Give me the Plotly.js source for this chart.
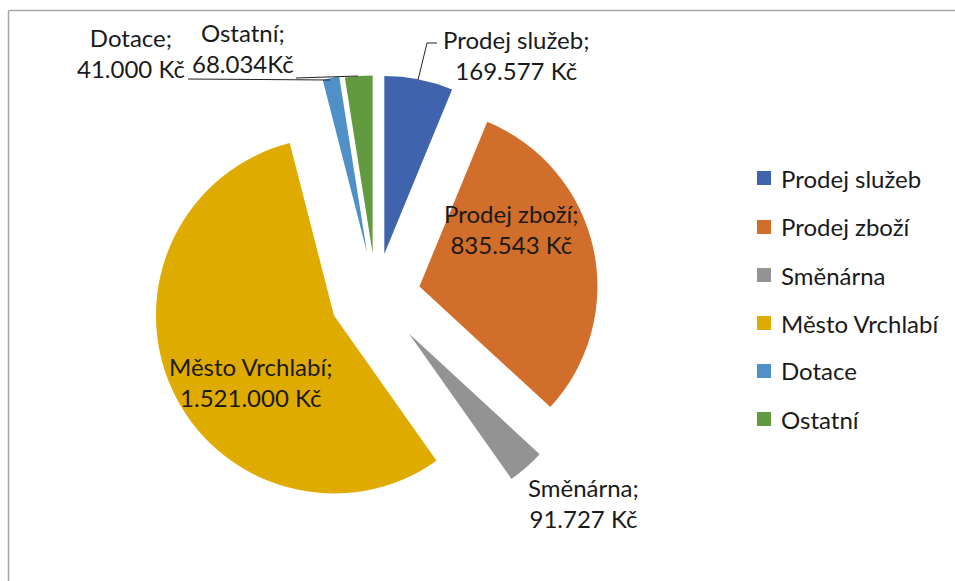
<!DOCTYPE html>
<html>
<head>
<meta charset="utf-8">
<script src="https://cdn.plot.ly/plotly-3.0.1.min.js"></script>
<style>
html,body{margin:0;padding:0;background:#fff;}
#chart{width:955px;height:581px;}
</style>
</head>
<body>
<div id="chart"></div>
<script>
// ---- data ----
const categories = ["Prodej služeb", "Prodej zboží", "Směnárna", "Město Vrchlabí", "Dotace", "Ostatní"];
const values = [169577, 835543, 91727, 1521000, 41000, 68034];
const currencySep = [" ", " ", " ", " ", " ", ""];
const currency = "Kč";

// ---- style ----
const colors = ["#3F64AD", "#D26E2B", "#939393", "#E0AB00", "#5090C8", "#629A3F"];
const pulls = [0.24, 0.25, 0.28, 0.26, 0.25, 0.24];
const W = 955, H = 581;
const px = x => x / W;
const py = y => 1 - y / H;
const FONT = {family: "Lato, 'Open Sans', sans-serif", size: 24, color: "#1a1a1a"};

function fmt(v) {
  return String(v).replace(/\B(?=(\d{3})+(?!\d))/g, ".");
}

// label centres (pixels)
const labelPos = [[516, 55], [511, 229], [583, 503], [250, 382], [131, 53], [243, 48]];

const annotations = categories.map((c, i) => ({
  xref: "paper", yref: "paper",
  x: px(labelPos[i][0]), y: py(labelPos[i][1]),
  xanchor: "center", yanchor: "middle",
  text: c + ";<br>" + fmt(values[i]) + currencySep[i] + currency,
  showarrow: false, font: FONT, align: "center"
}));

// manual legend
const legendY = [178, 227, 275, 323, 371, 419];
const shapes = [];
categories.forEach((c, i) => {
  shapes.push({type: "rect", xref: "paper", yref: "paper",
    x0: px(757), x1: px(771), y0: py(legendY[i] - 7), y1: py(legendY[i] + 7),
    fillcolor: colors[i], line: {width: 0}});
  annotations.push({xref: "paper", yref: "paper", x: px(779), y: py(legendY[i]),
    xanchor: "left", yanchor: "middle", text: c, showarrow: false, font: FONT});
});

// leader lines
const leaders = [
  "M 418 80 L 427 43 L 437 43",
  "M 188 79 L 330 80",
  "M 296 78 L 358 76"
];
leaders.forEach(p => {
  const pts = p.match(/[\d.]+/g).map(Number);
  let d = "";
  for (let k = 0; k < pts.length; k += 2) {
    d += (k === 0 ? "M " : " L ") + px(pts[k]) + "," + py(pts[k + 1]);
  }
  shapes.push({type: "path", xref: "paper", yref: "paper", path: d, line: {color: "#222", width: 1}});
});

// frame
shapes.push({type: "line", xref: "paper", yref: "paper", x0: px(8.5), x1: 1, y0: py(10.5), y1: py(10.5), line: {color: "#a6a6a6", width: 1.5}});
shapes.push({type: "line", xref: "paper", yref: "paper", x0: px(8.5), x1: px(8.5), y0: py(10.5), y1: 0, line: {color: "#a6a6a6", width: 1.5}});

const cx = 376, cy = 296, R = 178;
const half = R * (1 + Math.max(...pulls));

const trace = {
  type: "pie",
  labels: categories,
  values: values,
  sort: false,
  direction: "clockwise",
  rotation: 0,
  pull: pulls,
  marker: {colors: colors, line: {width: 0}},
  textinfo: "none",
  hoverinfo: "label+value",
  showlegend: false,
  domain: {x: [px(cx - half), px(cx + half)], y: [py(cy + half), py(cy - half)]}
};

const layout = {
  width: W, height: H,
  margin: {l: 0, r: 0, t: 0, b: 0},
  paper_bgcolor: "#fff",
  showlegend: false,
  annotations: annotations,
  shapes: shapes,
  font: FONT
};

Plotly.newPlot("chart", [trace], layout, {displayModeBar: false, staticPlot: true});
</script>
</body>
</html>
